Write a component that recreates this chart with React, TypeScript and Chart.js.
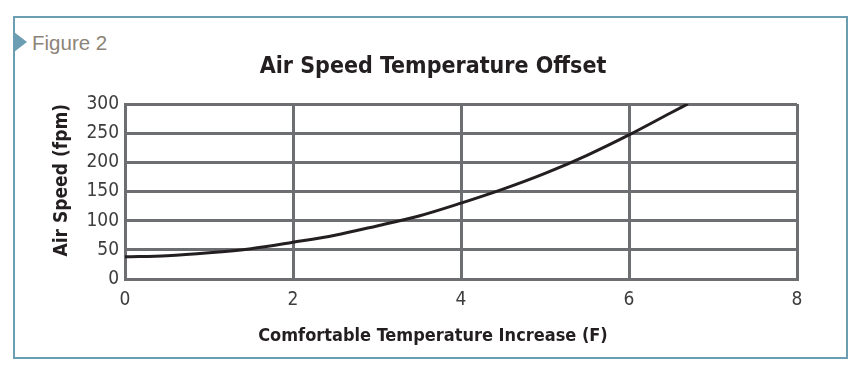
import React, { useEffect, useRef } from "react";
import { Chart, registerables } from "chart.js";

Chart.register(...registerables);

const tempIncrease = [0, 0.5, 1, 1.5, 2, 2.5, 3, 3.5, 4, 4.5, 5, 5.5, 6, 6.5, 6.7];
const airSpeed = [38, 40, 45, 52, 63, 75, 91, 108, 130, 154, 181, 212, 247, 285, 300];
const xTicks = [0, 2, 4, 6, 8];
const yTicks = [0, 50, 100, 150, 200, 250, 300];

const chartTitle = "Air Speed Temperature Offset";
const xTitle = "Comfortable Temperature Increase (F)";
const yTitle = "Air Speed (fpm)";
const figureLabel = "Figure 2";

const NARROW = "'Liberation Sans Narrow', 'DejaVu Sans Condensed', 'Arial Narrow', sans-serif";
const GRID = "#6d6e71";
const INK = "#231f20";
const FRAME = "#6b9db3";

export default function App() {
  const canvasRef = useRef<HTMLCanvasElement | null>(null);

  useEffect(() => {
    const canvas = canvasRef.current;
    if (!canvas) return;
    const points = tempIncrease.map((x, i) => ({ x, y: airSpeed[i] }));
    const chart = new Chart(canvas, {
      type: "line",
      data: {
        datasets: [
          {
            data: points,
            borderColor: INK,
            borderWidth: 3,
            pointRadius: 0,
            cubicInterpolationMode: "monotone",
            fill: false,
          },
        ],
      },
      options: {
        animation: false,
        responsive: false,
        maintainAspectRatio: false,
        layout: { padding: { left: 0, right: 0, top: 0, bottom: 0 } },
        plugins: {
          legend: { display: false },
          tooltip: { enabled: false },
          title: {
            display: true,
            text: chartTitle,
            color: INK,
            font: { family: NARROW, size: 23, weight: "bold", lineHeight: 1.2 },
            padding: { top: 53.2, bottom: 23.2 },
          },
          subtitle: {
            display: true,
            position: "bottom",
            text: xTitle,
            color: INK,
            font: { family: NARROW, size: 18, weight: "bold", lineHeight: 1.2 },
            padding: { top: 4, bottom: 26.2 },
          },
        },
        scales: {
          x: {
            type: "linear",
            min: 0,
            max: 8,
            afterBuildTicks: (s: any) => {
              s.ticks = xTicks.map((v) => ({ value: v }));
            },
            afterFit: (s: any) => {
              s.height = 42.2;
            },
            grid: { color: GRID, lineWidth: 3, drawTicks: false },
            border: { display: true, color: GRID, width: 3 },
            ticks: {
              padding: 10,
              color: "#3d3d3d",
              font: { family: NARROW, size: 19 },
              maxRotation: 0,
            },
          },
          y: {
            type: "linear",
            min: 0,
            max: 300,
            afterBuildTicks: (s: any) => {
              s.ticks = yTicks.map((v) => ({ value: v }));
            },
            afterFit: (s: any) => {
              s.width = 125;
            },
            grid: { color: GRID, lineWidth: 3, drawTicks: false },
            border: { display: true, color: GRID, width: 3 },
            ticks: {
              padding: 6,
              color: "#3d3d3d",
              font: { family: NARROW, size: 19 },
            },
            title: {
              display: true,
              text: yTitle,
              align: "end",
              color: INK,
              font: { family: NARROW, size: 19, weight: "bold", lineHeight: 1.2 },
              padding: { top: 51, bottom: 0 },
            },
          },
          yRight: {
            type: "linear",
            position: "right",
            display: true,
            grid: { display: false, drawTicks: false },
            border: { display: false },
            ticks: { display: false },
            afterFit: (s: any) => {
              s.width = 69;
            },
          },
        },
      },
    });
    return () => chart.destroy();
  }, []);

  return (
    <div style={{ position: "fixed", left: 0, top: 0, width: 866, height: 373, background: "#ffffff" }}>
      <div
        style={{
          position: "absolute",
          left: 13,
          top: 16,
          width: 831,
          height: 339,
          border: `2px solid ${FRAME}`,
          boxSizing: "content-box",
        }}
      />
      <div
        style={{
          position: "absolute",
          left: 14,
          top: 32,
          width: 0,
          height: 0,
          borderTop: "10px solid transparent",
          borderBottom: "10px solid transparent",
          borderLeft: `13px solid ${FRAME}`,
        }}
      />
      <div
        style={{
          position: "absolute",
          left: 32,
          top: 33,
          fontFamily: "'Liberation Sans', Arial, sans-serif",
          fontSize: 20.5,
          lineHeight: "20px",
          color: "#8c8478",
          whiteSpace: "nowrap",
        }}
      >
        {figureLabel}
      </div>
      <canvas ref={canvasRef} width={866} height={373} style={{ position: "absolute", left: 0, top: 0 }} />
    </div>
  );
}
